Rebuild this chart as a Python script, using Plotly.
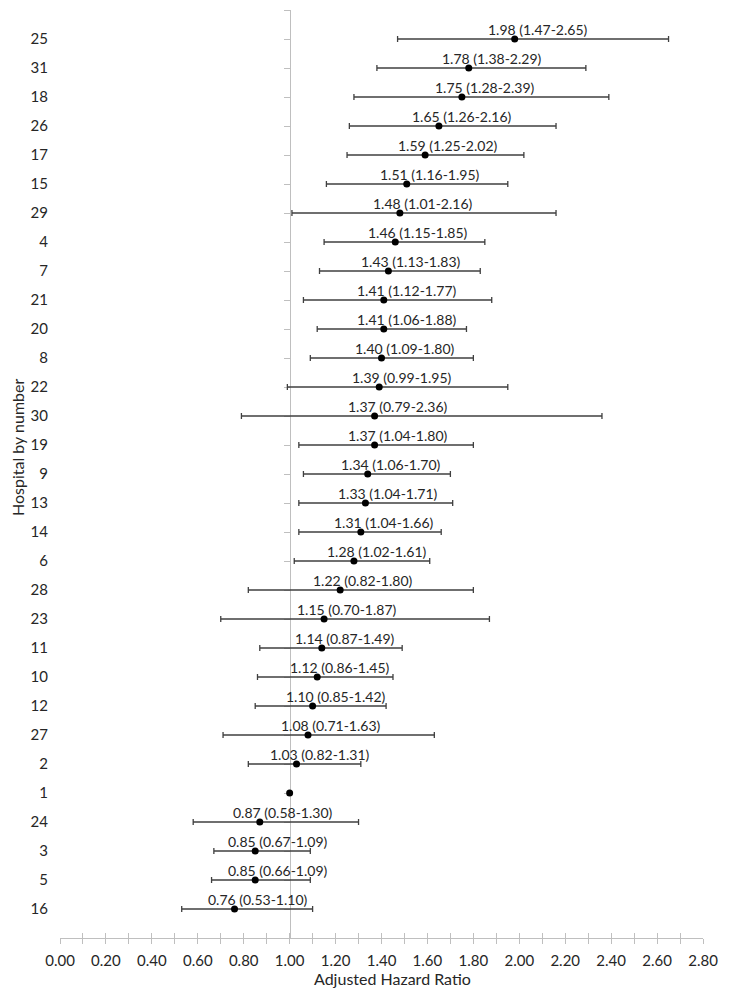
import plotly.graph_objects as go

hospitals = ["25", "31", "18", "26", "17", "15", "29", "4", "7", "21", "20", "8", "22", "30",
             "19", "9", "13", "14", "6", "28", "23", "11", "10", "12", "27", "2", "1", "24",
             "3", "5", "16"]
hr = [1.98, 1.78, 1.75, 1.65, 1.59, 1.51, 1.48, 1.46, 1.43, 1.41, 1.41, 1.40, 1.39, 1.37,
      1.37, 1.34, 1.33, 1.31, 1.28, 1.22, 1.15, 1.14, 1.12, 1.10, 1.08, 1.03, 1.00, 0.87,
      0.85, 0.85, 0.76]
# confidence limits as drawn
ci_lo = [1.47, 1.38, 1.28, 1.26, 1.25, 1.16, 1.01, 1.15, 1.13, 1.06, 1.12, 1.09, 0.99, 0.79,
         1.04, 1.06, 1.04, 1.04, 1.02, 0.82, 0.70, 0.87, 0.86, 0.85, 0.71, 0.82, None, 0.58,
         0.67, 0.66, 0.53]
ci_hi = [2.65, 2.29, 2.39, 2.16, 2.02, 1.95, 2.16, 1.85, 1.83, 1.88, 1.77, 1.80, 1.95, 2.36,
         1.80, 1.70, 1.71, 1.66, 1.61, 1.80, 1.87, 1.49, 1.45, 1.42, 1.63, 1.31, None, 1.30,
         1.09, 1.09, 1.10]
# labels as printed
label_lo = ["1.47", "1.38", "1.28", "1.26", "1.25", "1.16", "1.01", "1.15", "1.13", "1.12",
            "1.06", "1.09", "0.99", "0.79", "1.04", "1.06", "1.04", "1.04", "1.02", "0.82",
            "0.70", "0.87", "0.86", "0.85", "0.71", "0.82", None, "0.58", "0.67", "0.66", "0.53"]
label_hi = ["2.65", "2.29", "2.39", "2.16", "2.02", "1.95", "2.16", "1.85", "1.83", "1.77",
            "1.88", "1.80", "1.95", "2.36", "1.80", "1.70", "1.71", "1.66", "1.61", "1.80",
            "1.87", "1.49", "1.45", "1.42", "1.63", "1.31", None, "1.30", "1.09", "1.09", "1.10"]
x_ticks = [0.0, 0.2, 0.4, 0.6, 0.8, 1.0, 1.2, 1.4, 1.6, 1.8, 2.0, 2.2, 2.4, 2.6, 2.8]

n = len(hospitals)
ypos = [n - 1 - i for i in range(n)]
has_ci = [i for i in range(n) if ci_lo[i] is not None]

FONT = "Lato, 'Open Sans', sans-serif"
TXT = "#262626"
GRID = "#bfbfbf"
XMIN, XMAX = 0.0, 2.8
YR = [-1, n]

fig = go.Figure()
# confidence intervals
fig.add_trace(go.Scatter(
    x=[hr[i] for i in has_ci], y=[ypos[i] for i in has_ci], mode="markers",
    marker=dict(color="rgba(0,0,0,0)", size=1),
    error_x=dict(type="data", symmetric=False,
                 array=[ci_hi[i] - hr[i] for i in has_ci],
                 arrayminus=[hr[i] - ci_lo[i] for i in has_ci],
                 color="#404040", thickness=1.3, width=3),
    hoverinfo="skip", showlegend=False, cliponaxis=False,
))
# point estimates
fig.add_trace(go.Scatter(
    x=hr, y=ypos, mode="markers", marker=dict(color="black", size=7),
    hoverinfo="skip", showlegend=False, cliponaxis=False,
))
# helper trace for overlay axes
fig.add_trace(go.Scatter(x=[None], y=[None], xaxis="x2", yaxis="y2",
                         showlegend=False, hoverinfo="skip"))

for i in has_ci:
    fig.add_annotation(x=hr[i], y=ypos[i], xref="x", yref="y",
                       text=f"{hr[i]:.2f} ({label_lo[i]}-{label_hi[i]})",
                       showarrow=False, xshift=23, yshift=10,
                       font=dict(family=FONT, size=14, color=TXT))

# the page body has an 8px margin: figure is sized and placed to compensate
W, H = 713, 980
ML, MR, MT, MB = 52, 18, 2, 50
PW, PH = W - ML - MR, H - MT - MB

fig.add_annotation(text="Adjusted Hazard Ratio", xref="paper", yref="paper",
                   x=(392 - 8 - ML) / PW, y=-(978 - 938) / PH,
                   xanchor="center", yanchor="middle", showarrow=False,
                   font=dict(family=FONT, size=16, color=TXT))
fig.add_annotation(text="Hospital by number", xref="paper", yref="paper",
                   x=(18 - 8 - ML) / PW, y=(938 - 448) / PH,
                   xanchor="center", yanchor="middle", showarrow=False,
                   textangle=-90, font=dict(family=FONT, size=16, color=TXT))

fig.update_layout(
    width=W, height=H,
    margin=dict(l=ML, r=MR, t=MT, b=MB, autoexpand=False),
    paper_bgcolor="white", plot_bgcolor="white",
    font=dict(family=FONT, color=TXT),
    xaxis=dict(range=[XMIN, XMAX], tickvals=x_ticks, tickformat=".2f",
               showgrid=False, zeroline=False, showline=True, linecolor=GRID, linewidth=1,
               ticks="outside", ticklen=5, tickcolor=GRID, tickwidth=1,
               minor=dict(dtick=0.1, tick0=0, ticks="outside", ticklen=5, tickcolor=GRID),
               ticklabelstandoff=4, layer="below traces",
               tickfont=dict(family=FONT, size=15, color=TXT)),
    xaxis2=dict(range=[XMIN, XMAX], overlaying="x", anchor="y2", side="bottom",
                tickvals=x_ticks, showticklabels=False, showgrid=False, zeroline=False,
                showline=False, ticks="inside", ticklen=5, tickcolor=GRID,
                layer="below traces",
                minor=dict(dtick=0.1, tick0=0, ticks="inside", ticklen=5, tickcolor=GRID)),
    yaxis=dict(range=YR, tickvals=ypos, ticktext=hospitals, showgrid=False,
               zeroline=False, showline=False, ticks="", ticklabelstandoff=11,
               tickfont=dict(family=FONT, size=15, color=TXT)),
    yaxis2=dict(range=YR, overlaying="y", anchor="free",
                position=(1.0 - XMIN) / (XMAX - XMIN), side="left",
                showticklabels=False, showgrid=False, zeroline=False,
                showline=True, linecolor=GRID, linewidth=1, layer="below traces",
                ticks="outside", ticklen=6, tickcolor=GRID, tick0=0, dtick=1),
)

fig.write_html("out.html")
